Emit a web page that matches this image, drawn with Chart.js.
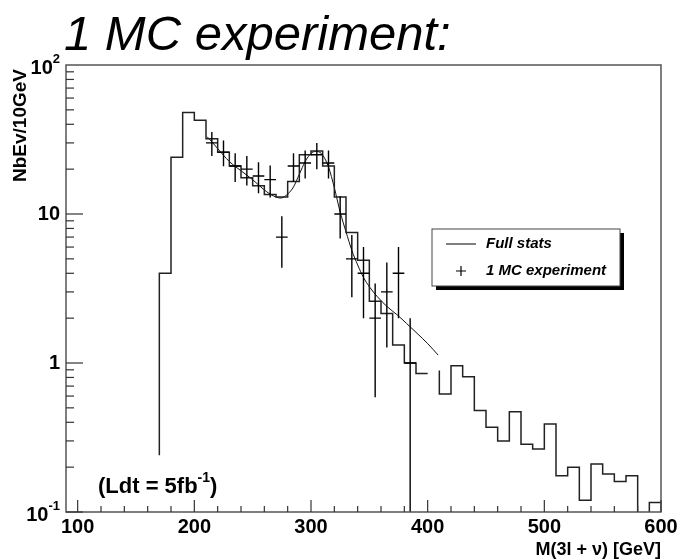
<!DOCTYPE html>
<html>
<head>
<meta charset="utf-8">
<script src="https://cdn.jsdelivr.net/npm/chart.js@4.4.1/dist/chart.umd.min.js"></script>
<style>
  html, body { margin: 0; padding: 0; background: #fff; }
</style>
</head>
<body>
<canvas id="myChart" width="679" height="559"></canvas>
<script>
// full stats histogram, 10 GeV bins (lower edges)
const binLow = [170, 180, 190, 200, 210, 220, 230, 240, 250, 260, 270, 280, 290, 300, 310, 320, 330, 340, 350, 360, 370, 380, 390,
    400, 410, 420, 430, 440, 450, 460, 470, 480, 490, 500, 510, 520, 530, 540, 550, 560, 570, 580, 590];
const binValue = [4.0, 24, 48, 42.5, 32, 26, 21, 17.5, 15.5, 13.5, 13, 16.5, 25, 26.5, 21, 13, 7.5, 4.9, 2.6, 2.15, 1.32, 1.0, 0.85,
    null, 0.62, 0.96, 0.81, 0.48, 0.37, 0.30, 0.47, 0.285, 0.265, 0.39, 0.175, 0.20, 0.12, 0.21, 0.18, 0.16, 0.175, 0, 0.116];
const binWidth = 10;
const histFloor = 0.24;   // where the first edge starts
const histGapEdge = 0.89; // where the line picks up again after the gap

// smooth curve
const fitX = [211, 215, 220, 230, 240, 250, 260, 268, 274, 280, 285, 290, 295, 300, 304, 309, 315, 320, 325, 330, 335, 340,
    345, 350, 357, 365, 374, 382, 391, 400, 409];
const fitY = [33, 30.5, 27.5, 22.5, 19.5, 17, 14.5, 13.2, 12.8, 13.6, 15.2, 18.5, 22.5, 25.5, 26.3, 25.4, 20.7, 15, 10.3, 7.6, 5.7, 4.55,
    3.75, 3.25, 2.78, 2.4, 2.1, 1.84, 1.58, 1.35, 1.13];

// 1 MC experiment (bin centres, counts, errors)
const mcX = [215, 225, 235, 245, 255, 265, 275, 285, 295, 305, 315, 325, 335, 345, 355, 365, 375, 385];
const mcY = [30, 26, 21, 20, 18, 17, 7, 21, 22, 25, 22, 10, 5, 4, 2, 3, 4, 1];
const mcErr = [5.48, 5.10, 4.58, 4.47, 4.24, 4.12, 2.65, 4.58, 4.69, 5.0, 4.69, 3.16, 2.24, 2.0, 1.41, 1.73, 2.0, 1.0];

// axes
const xTicks = [100, 200, 300, 400, 500, 600];
const yTicks = [0.1, 1, 10, 100];
const yTickBase = ['10', '1', '10', '10'];
const yTickExp = ['-1', '', '', '2'];

const histPoints = [{ x: binLow[0], y: histFloor }];
binLow.forEach((lo, i) => {
    let v = binValue[i];
    if (v === null) {
        histPoints.push({ x: lo + binWidth / 2, y: null }, { x: lo + binWidth, y: histGapEdge });
        return;
    }
    if (v === 0) v = 0.01; // empty bin, falls below the frame
    histPoints.push({ x: lo, y: v }, { x: lo + binWidth, y: v });
});

const fitPoints = fitX.map((x, i) => ({ x: x, y: fitY[i] }));
const mcPoints = mcX.map((x, i) => ({ x: x, y: mcY[i], err: mcErr[i] }));

const FONT = '"Liberation Sans", Arial, Helvetica, sans-serif';

const rootStyle = {
    id: 'rootStyle',
    beforeDraw(chart) {
        const c = chart.ctx;
        c.save();
        c.fillStyle = '#fff';
        c.fillRect(0, 0, chart.width, chart.height);
        c.restore();
    },
    afterDatasetsDraw(chart) {
        const c = chart.ctx, xs = chart.scales.x, ys = chart.scales.y, a = chart.chartArea;
        c.save();
        c.beginPath();
        c.rect(a.left, a.top, a.right - a.left, a.bottom - a.top);
        c.clip();
        c.strokeStyle = '#000';
        c.lineWidth = 1.4;
        mcPoints.forEach(p => {
            const px = xs.getPixelForValue(p.x);
            const py = ys.getPixelForValue(p.y);
            const lo = Math.max(p.y - p.err, ys.min);
            const pyLo = ys.getPixelForValue(lo);
            const pyHi = ys.getPixelForValue(p.y + p.err);
            const x0 = xs.getPixelForValue(p.x - binWidth / 2);
            const x1 = xs.getPixelForValue(p.x + binWidth / 2);
            c.beginPath();
            c.moveTo(px, pyHi);
            c.lineTo(px, pyLo);
            c.moveTo(x0, py);
            c.lineTo(x1, py);
            c.stroke();
        });
        c.restore();
    },
    afterDraw(chart) {
        const c = chart.ctx, xs = chart.scales.x, ys = chart.scales.y, a = chart.chartArea;
        c.save();

        // frame
        c.strokeStyle = '#555';
        c.lineWidth = 1.5;
        c.strokeRect(a.left, a.top, a.right - a.left, a.bottom - a.top);

        // y ticks (inside)
        c.lineWidth = 1.2;
        c.strokeStyle = '#333';
        for (let e = -1; e < 2; e++) {
            for (let m = 1; m <= 9; m++) {
                const v = m * Math.pow(10, e);
                const py = ys.getPixelForValue(v);
                const len = m === 1 ? 17 : 8;
                c.beginPath();
                c.moveTo(a.left, py);
                c.lineTo(a.left + len, py);
                c.stroke();
            }
        }
        // x ticks (inside)
        for (let v = 100; v <= 600; v += 20) {
            const px = xs.getPixelForValue(v);
            const len = v % 100 === 0 ? 12 : 6;
            c.beginPath();
            c.moveTo(px, a.bottom);
            c.lineTo(px, a.bottom - len);
            c.stroke();
        }

        c.fillStyle = '#000';
        // y labels
        yTicks.forEach((v, i) => {
            const py = ys.getPixelForValue(v);
            const base = yTickBase[i], ex = yTickExp[i];
            c.font = 'bold 13px ' + FONT;
            const ew = ex ? c.measureText(ex).width : 0;
            c.font = 'bold 20px ' + FONT;
            const bw = c.measureText(base).width;
            const right = 60;
            const dy = ex ? 3 : 0;
            c.textBaseline = 'middle';
            c.textAlign = 'left';
            c.fillText(base, right - ew - bw, py + dy);
            if (ex) {
                c.font = 'bold 13px ' + FONT;
                c.fillText(ex, right - ew, py + dy - 9);
            }
        });

        // x labels
        c.font = 'bold 20px ' + FONT;
        c.textAlign = 'center';
        c.textBaseline = 'middle';
        xTicks.forEach(v => {
            c.fillText(String(v), xs.getPixelForValue(v), a.bottom + 15);
        });

        // x title
        c.textAlign = 'right';
        c.font = 'bold 18px ' + FONT;
        c.fillText('M(3l + \u03BD) [GeV]', a.right, a.bottom + 38);

        // y title
        c.save();
        c.translate(21, a.top + 4);
        c.rotate(-Math.PI / 2);
        c.textAlign = 'right';
        c.textBaseline = 'middle';
        c.font = 'bold 19px ' + FONT;
        c.fillText('NbEv/10GeV', 0, 0);
        c.restore();

        // big title
        c.textAlign = 'left';
        c.textBaseline = 'alphabetic';
        c.font = 'italic 49px ' + FONT;
        c.fillText('1 MC experiment:', 64, 50);

        // luminosity text
        c.font = 'bold 22px ' + FONT;
        c.textBaseline = 'middle';
        let tx = 98;
        const ty = a.bottom - 25;
        c.fillText('(Ldt = 5fb', tx, ty);
        tx += c.measureText('(Ldt = 5fb').width;
        c.font = 'bold 14px ' + FONT;
        c.fillText('-1', tx, ty - 9);
        tx += c.measureText('-1').width;
        c.font = 'bold 22px ' + FONT;
        c.fillText(')', tx, ty);

        // legend box with shadow
        const lx = 432, ly = 229, lw = 188, lh = 57;
        c.fillStyle = '#000';
        c.fillRect(lx + 4, ly + 4, lw, lh);
        c.fillStyle = '#fff';
        c.fillRect(lx, ly, lw, lh);
        c.strokeStyle = '#444';
        c.lineWidth = 1;
        c.strokeRect(lx, ly, lw, lh);

        c.strokeStyle = '#000';
        c.lineWidth = 1.2;
        c.beginPath();
        c.moveTo(lx + 14, ly + 15);
        c.lineTo(lx + 44, ly + 15);
        c.moveTo(lx + 29, ly + 37);
        c.lineTo(lx + 29, ly + 47);
        c.moveTo(lx + 24, ly + 42);
        c.lineTo(lx + 34, ly + 42);
        c.stroke();

        c.fillStyle = '#000';
        c.font = 'italic bold 15px ' + FONT;
        c.textAlign = 'left';
        c.textBaseline = 'middle';
        c.fillText('Full stats', lx + 54, ly + 15);
        c.fillText('1 MC experiment', lx + 54, ly + 42);

        c.restore();
    }
};

new Chart(document.getElementById('myChart'), {
    type: 'line',
    data: {
        datasets: [{
            label: 'Full stats',
            data: histPoints,
            borderColor: '#222',
            borderWidth: 1.5,
            pointRadius: 0,
            tension: 0,
            spanGaps: false
        }, {
            label: 'Fit',
            data: fitPoints,
            borderColor: '#111',
            borderWidth: 1,
            pointRadius: 0,
            cubicInterpolationMode: 'monotone'
        }, {
            label: '1 MC experiment',
            data: mcPoints,
            showLine: false,
            pointRadius: 0
        }]
    },
    options: {
        responsive: false,
        animation: false,
        devicePixelRatio: 1,
        layout: {
            padding: { left: 66, right: 18, top: 65, bottom: 47 }
        },
        plugins: {
            legend: { display: false },
            tooltip: { enabled: false }
        },
        scales: {
            x: { type: 'linear', min: 90, max: 600, display: false },
            y: { type: 'logarithmic', min: 0.1, max: 100, display: false }
        }
    },
    plugins: [rootStyle]
});
</script>
</body>
</html>
